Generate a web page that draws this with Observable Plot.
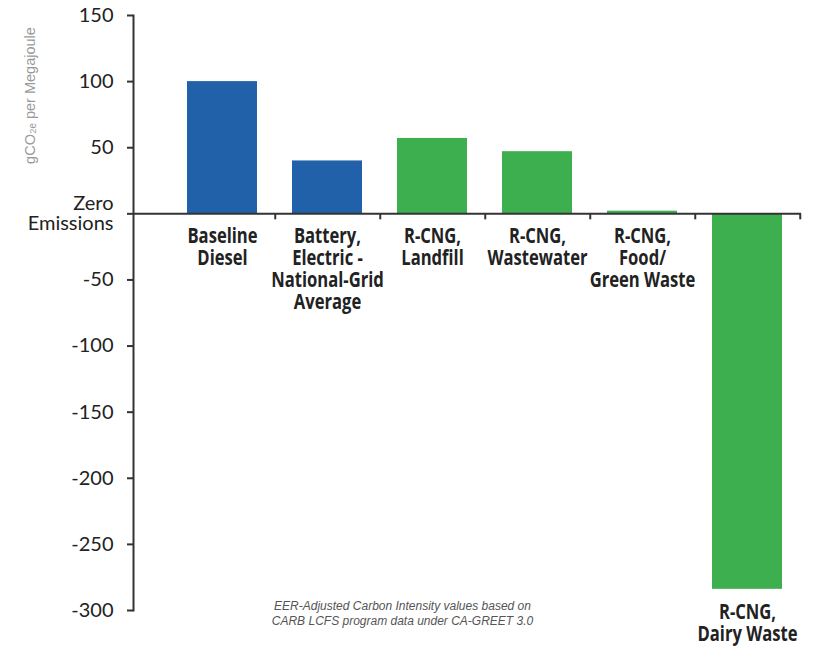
<!DOCTYPE html>
<html>
<head>
<meta charset="utf-8">
<script src="https://cdn.jsdelivr.net/npm/d3@7"></script>
<script src="https://cdn.jsdelivr.net/npm/@observablehq/plot@0.6"></script>
<style>
  html, body { margin: 0; padding: 0; background: #fff; }
</style>
</head>
<body>
<div id="chart"></div>
<script>
const categories = [
  "Baseline\nDiesel",
  "Battery,\nElectric -\nNational-Grid\nAverage",
  "R-CNG,\nLandfill",
  "R-CNG,\nWastewater",
  "R-CNG,\nFood/\nGreen Waste",
  "R-CNG,\nDairy Waste"
];
const values = [100, 40, 57, 47, 2, -284];
const fuelType = ["conventional", "conventional", "renewable", "renewable", "renewable", "renewable"];
const yTicks = [150, 100, 50, 0, -50, -100, -150, -200, -250, -300];
const yLabel = "gCO₂ₑ per Megajoule";
const caption = "EER-Adjusted Carbon Intensity values based on\nCARB LCFS program data under CA-GREET 3.0";

const data = categories.map((c, i) => ({category: c, value: values[i], type: fuelType[i]}));

const xRange = [168, 801];
const halfStep = (xRange[1] - xRange[0]) / categories.length / 2;

const chart = Plot.plot({
  width: 815,
  height: 646,
  marginTop: 15,
  marginBottom: 36,
  marginLeft: 133,
  marginRight: 14,
  style: {fontFamily: "Lato, sans-serif", color: "#222", background: "#fff"},
  x: {domain: categories, range: xRange, paddingInner: 0.336, paddingOuter: 0.168, axis: null},
  y: {domain: [-300, 150], axis: null},
  color: {domain: ["conventional", "renewable"], range: ["#2061a9", "#3daf4e"]},
  marks: [
    Plot.barY(data, {x: "category", y: "value", fill: "type"}),
    Plot.ruleY([0], {stroke: "#333", strokeWidth: 2}),
    Plot.frame({anchor: "left", stroke: "#333", strokeWidth: 2}),
    Plot.ruleX(data, {x: "category", y1: 0, y2: 0, insetBottom: -6, dx: halfStep, stroke: "#333", strokeWidth: 2}),
    Plot.axisY({
      ticks: yTicks,
      label: null,
      tickSize: 6,
      tickPadding: 14,
      stroke: "#333",
      strokeWidth: 2,
      fontSize: 20,
      tickFormat: d => d === 0 ? "Zero\nEmissions" : String(d)
    }),
    Plot.text(data, {
      x: "category",
      y: d => Math.min(0, d.value),
      text: "category",
      lineAnchor: "top",
      dy: 14,
      fontSize: 20.5,
      fontWeight: "bold",
      fontFamily: "'Open Sans', sans-serif",
      lineHeight: 1.07,
      fill: "#222"
    }),
    Plot.text([yLabel], {
      frameAnchor: "top-left",
      textAnchor: "middle",
      lineAnchor: "middle",
      dx: -103,
      dy: 80,
      rotate: -90,
      fontSize: 14.5,
      fontFamily: "'Liberation Sans', Arial, sans-serif",
      fill: "#9a9a9a"
    }),
    Plot.text([caption], {
      frameAnchor: "bottom-left",
      textAnchor: "middle",
      lineAnchor: "middle",
      dx: 269,
      dy: 2,
      fontSize: 12,
      lineHeight: 1.25,
      fontStyle: "italic",
      fontFamily: "'Liberation Sans', Arial, sans-serif",
      fill: "#555"
    })
  ]
});

// Condense the category labels horizontally to mimic the original condensed bold face
const textGroups = chart.querySelectorAll('g[aria-label="text"]');
if (textGroups.length) {
  textGroups[0].querySelectorAll("text").forEach(t => {
    const tr = t.getAttribute("transform") || "";
    t.setAttribute("transform", tr + " scale(0.81,1)");
  });
}
document.getElementById("chart").append(chart);
</script>
</body>
</html>
